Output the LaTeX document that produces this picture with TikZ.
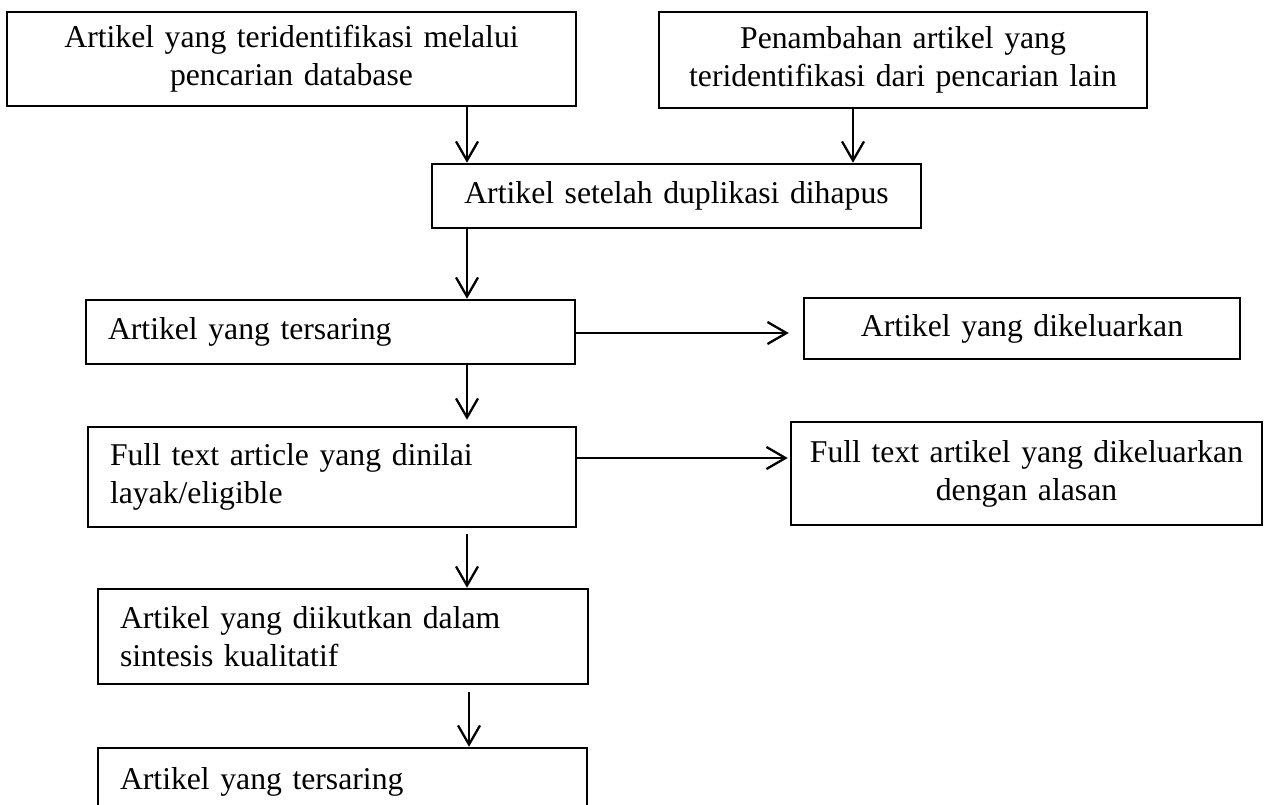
\documentclass[tikz,border=0pt]{standalone}
\usepackage{fontspec}
\setmainfont{Liberation Serif}
\usetikzlibrary{arrows.meta}
\tikzset{
  box/.style={draw, line width=2.5pt, inner sep=0pt, font=\fontsize{31.7}{38}\selectfont},
  cbox/.style={box, align=center},
  arr/.style={line width=2.3pt, -{Straight Barb[length=19pt,width=22pt,line width=2.3pt]}}
}
\begin{document}
\begin{tikzpicture}[x=1pt,y=-1pt]
\useasboundingbox (0,0) rectangle (1268,805);
\clip (0,0) rectangle (1268,805);
\coordinate (xa) at (467,0);
\coordinate (xb) at (853,0);
\coordinate (xc) at (469,0);
\coordinate (dy) at (0,333);
\coordinate (fy) at (0,458);
% boxes
\node[cbox, minimum width=569pt, minimum height=94pt, text width=540pt] (A) at (291.5,59) {Artikel yang teridentifikasi melalui\\pencarian database};
\node[cbox, minimum width=488pt, minimum height=96pt, text width=470pt] (B) at (903,60) {Penambahan artikel yang\\teridentifikasi dari pencarian lain};
\node[cbox, minimum width=489pt, minimum height=64pt, text width=470pt] (C) at (676.5,196) {Artikel setelah duplikasi dihapus};
\node[box, align=left, minimum width=489pt, minimum height=64pt, text width=445pt] (D) at (330.5,332) {Artikel yang tersaring};
\node[cbox, minimum width=436pt, minimum height=61pt, text width=420pt] (E) at (1022,328.5) {Artikel yang dikeluarkan};
\node[box, align=left, minimum width=488pt, minimum height=100pt, text width=444pt] (F) at (332,477) {Full text article yang dinilai\\layak/eligible};
\node[cbox, minimum width=471pt, minimum height=103pt, text width=460pt] (G) at (1026.5,473.5) {Full text artikel yang dikeluarkan\\dengan alasan};
\node[box, align=left, minimum width=490pt, minimum height=95pt, text width=446pt] (H) at (343,636.5) {Artikel yang diikutkan dalam\\sintesis kualitatif};
\node[box, align=left, minimum width=489pt, minimum height=68pt, text width=445pt] (I) at (342.5,782) {Artikel yang tersaring};
% connectors
\draw[arr] (A.south -| xa) -- (C.north -| xa);
\draw[arr] (B.south -| xb) -- (C.north -| xb);
\draw[arr] (C.south -| xa) -- (D.north -| xa);
\draw[arr, shorten >=14pt] (D.east |- dy) -- (E.west |- dy);
\draw[arr, shorten >=6pt] (D.south -| xa) -- (F.north -| xa);
\draw[arr, shorten >=2pt] (F.east |- fy) -- (G.west |- fy);
\draw[arr, shorten <=6pt] (F.south -| xa) -- (H.north -| xa);
\draw[arr, shorten <=7pt] (H.south -| xc) -- (I.north -| xc);
\end{tikzpicture}
\end{document}
